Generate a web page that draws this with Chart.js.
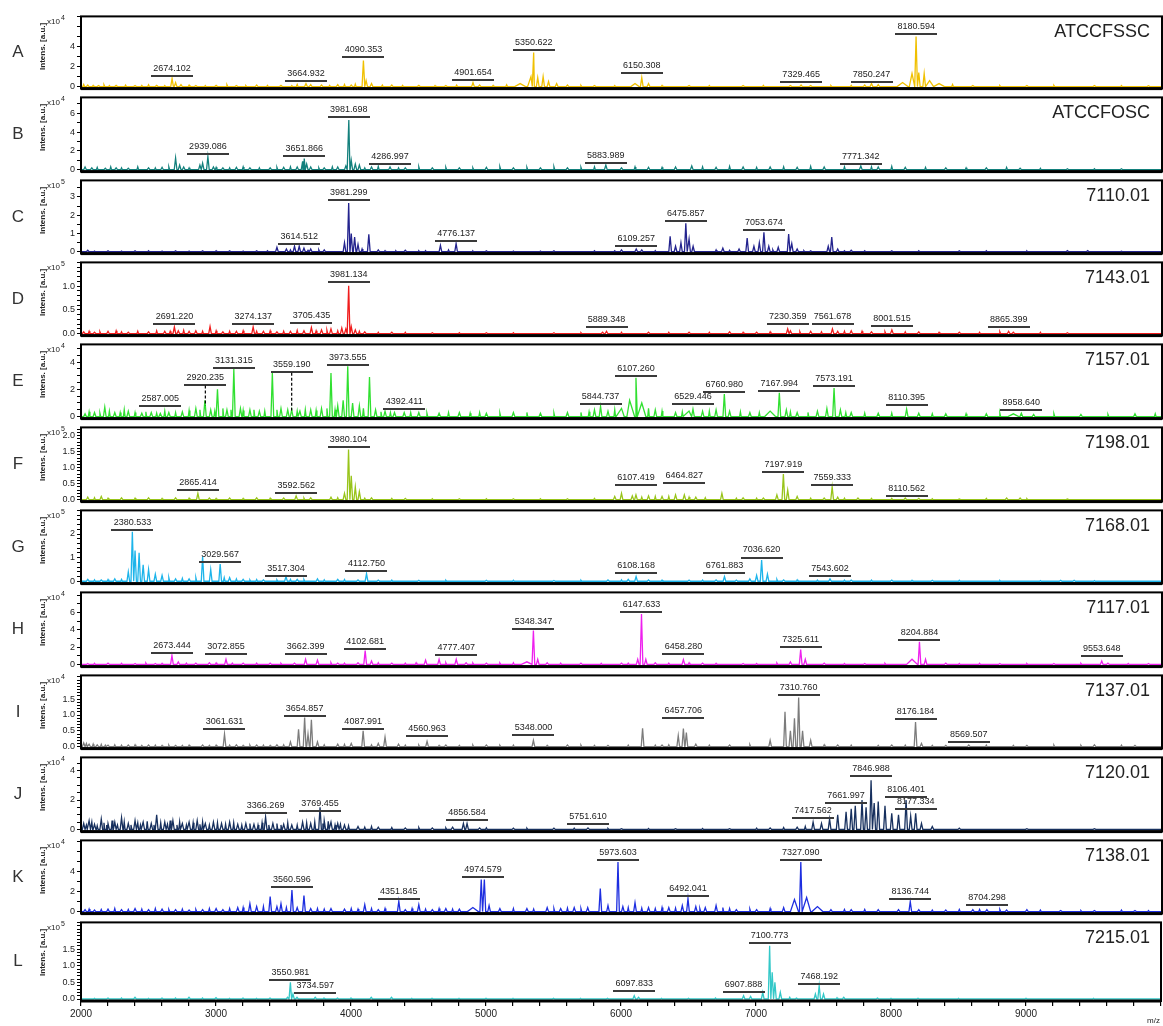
<!DOCTYPE html>
<html>
<head>
<meta charset="utf-8">
<script src="https://cdn.jsdelivr.net/npm/chart.js@4.4.0/dist/chart.umd.min.js"></script>
<style>
  body { margin: 0; background: #fff; }
  #wrap { position: relative; width: 1163px; height: 1026px; overflow: hidden; }
  #wrap canvas { position: absolute; left: 0; }
</style>
</head>
<body>
<div id="wrap"></div>
<script>
// ---- data (m/z, intensity in panel units, optional half width) ----
const letters = ["A","B","C","D","E","F","G","H","I","J","K","L"];
const sampleNames = ["ATCCFSSC","ATCCFOSC","7110.01","7143.01","7157.01","7198.01","7168.01","7117.01","7137.01","7120.01","7138.01","7215.01"];
const exponents = [4,4,5,5,4,5,5,4,4,4,4,5];
const yMins = [-0.2,-0.2,-0.1,-0.04,-0.15,-0.06,-0.1,-0.25,-0.06,-0.15,-0.2,-0.06];
const yMaxes = [7.0,7.7,3.9,1.5,5.3,2.26,3.0,8.3,2.25,4.9,7.1,2.3];
const yTickSteps = [1,1,0.5,0.1,0.5,0.1,0.2,1,0.1,0.5,1,0.1];
const yTickLabels = [[0,2,4],[0,2,4,6],[0,1,2,3],[0,0.5,1],[0,2,4],[0,0.5,1,1.5,2],[0,1,2],[0,2,4,6],[0,0.5,1,1.5],[0,2,4],[0,2,4],[0,0.5,1,1.5]];
const yDecimals = [0,0,0,1,0,1,0,0,1,0,0,1];
const xTickLabels = [2000,3000,4000,5000,6000,7000,8000,9000];

const peaksA = [[2050,0.15],[2130,0.1],[2260,0.12],[2400,0.1],[2560,0.12],[2674,0.8],[2700,0.4],[2740,0.2],[2850,0.1],[3000,0.12],[3150,0.1],[3300,0.15],[3480,0.12],[3665,0.3],[3700,0.2],[3780,0.15],[3900,0.2],[4000,0.15],[4090,2.6],[4110,0.6],[4150,0.3],[4300,0.15],[4500,0.12],[4700,0.1],[4901,0.4],[4950,0.15],[5250,0.3,40],[5330,1.0,25],[5350,3.4],[5380,0.9],[5420,1.0],[5460,0.5],[5520,0.3],[5600,0.15],[5800,0.1],[6100,0.3,30],[6150,0.9],[6200,0.3],[6500,0.1],[6900,0.1],[7250,0.1],[7329,0.15],[7400,0.1],[7800,0.15],[7850,0.3],[7900,0.2],[8080,0.4,40],[8150,1.3,20],[8180,5.0],[8200,1.4],[8240,1.3],[8280,0.6,30],[8350,0.3,40],[8600,0.1],[9000,0.1],[9500,0.1],[9900,0.08]];
const peaksB = [[2030,0.3],[2080,0.2],[2180,0.15],[2260,0.2],[2350,0.15],[2500,0.2],[2600,0.25],[2700,1.25],[2730,0.5],[2760,0.3],[2880,0.5],[2900,0.7],[2939,1.4],[2980,0.3],[3050,0.2],[3150,0.25],[3250,0.2],[3400,0.2],[3500,0.25],[3600,0.3],[3640,0.9],[3652,1.2],[3670,0.6],[3700,0.3],[3800,0.2],[3900,0.3],[3960,0.4],[3982,5.3],[4000,1.0],[4030,0.6],[4060,0.5],[4150,0.3],[4287,0.3],[4400,0.2],[4600,0.2],[4800,0.2],[5000,0.25],[5200,0.2],[5400,0.2],[5600,0.2],[5884,0.5],[6000,0.2],[6200,0.25],[6400,0.3],[6520,0.4],[6700,0.25],[6900,0.3],[7100,0.3],[7300,0.25],[7500,0.3],[7771,0.4],[7900,0.3],[8100,0.25],[8400,0.2],[8700,0.2],[8950,0.15],[9300,0.1],[9700,0.1]];
const peaksC = [[2050,0.08],[2200,0.05],[2400,0.05],[2700,0.05],[2900,0.05],[3100,0.05],[3300,0.05],[3450,0.25],[3520,0.15],[3580,0.3],[3615,0.3],[3650,0.2],[3700,0.15],[3800,0.1],[3950,0.5],[3981,2.67],[4000,1.0],[4025,0.8],[4050,0.4],[4130,0.95],[4200,0.1],[4400,0.08],[4660,0.35],[4776,0.45],[5000,0.05],[5500,0.05],[6000,0.1],[6109,0.15],[6150,0.1],[6360,0.85],[6400,0.3],[6440,0.5],[6476,1.55],[6500,0.7],[6530,0.3],[6750,0.2],[6870,0.15],[6930,0.75],[6980,0.3],[7020,0.5],[7054,1.07],[7090,0.3],[7160,0.25],[7237,0.97],[7260,0.45],[7300,0.15],[7400,0.05],[7530,0.3],[7556,0.8],[7600,0.15],[7700,0.08],[8000,0.05],[8500,0.05],[9300,0.06],[9450,0.06],[9700,0.03]];
const peaksD = [[2020,0.04],[2100,0.03],[2200,0.05],[2350,0.03],[2500,0.04],[2620,0.05],[2691,0.14],[2720,0.06],[2800,0.05],[2850,0.06],[2955,0.15],[3050,0.04],[3150,0.05],[3274,0.14],[3350,0.05],[3450,0.04],[3550,0.05],[3650,0.06],[3705,0.13],[3780,0.08],[3850,0.1],[3930,0.12],[3960,0.1],[3981,1.01],[4000,0.15],[4030,0.08],[4100,0.04],[4300,0.03],[4600,0.02],[5000,0.02],[5500,0.02],[5860,0.03],[5889,0.05],[6200,0.03],[6500,0.03],[6800,0.04],[7000,0.03],[7230,0.1],[7250,0.06],[7400,0.05],[7561,0.1],[7600,0.05],[7700,0.06],[7850,0.04],[8001,0.08],[8200,0.04],[8500,0.03],[8865,0.05],[8900,0.03],[9300,0.02]];
const peaksE = [[2030,0.2],[2100,0.3],[2176,0.7],[2250,0.3],[2350,0.4],[2450,0.25],[2520,0.3],[2587,0.23],[2650,0.3],[2750,0.35],[2850,0.6],[2917,1.2],[2960,0.5],[3010,2.0],[3080,0.5],[3131,3.5],[3180,0.6],[3250,0.5],[3320,0.4],[3416,3.2],[3480,0.6],[3530,0.5],[3559,0.5],[3620,0.4],[3700,0.5],[3780,0.6],[3850,3.2],[3900,0.8],[3940,1.2],[3974,3.7],[4010,1.0],[4060,0.8],[4135,2.9],[4180,0.5],[4250,0.4],[4320,0.3],[4392,0.3],[4500,0.3],[4650,0.25],[4800,0.3],[5000,0.25],[5200,0.3],[5400,0.25],[5600,0.3],[5800,0.5],[5845,0.75],[5900,0.4],[6000,0.6,40],[6060,1.2,40],[6107,2.85],[6150,1.0,30],[6250,0.5],[6400,0.3],[6500,0.4,40],[6529,0.55],[6600,0.4],[6700,0.5],[6761,1.65],[6800,0.4],[6950,0.3],[7100,0.4,40],[7168,1.75],[7220,0.5],[7300,0.3],[7450,0.4],[7520,0.6],[7573,2.1],[7620,0.5],[7700,0.3],[7900,0.25],[8110,0.55],[8200,0.25],[8400,0.2],[8700,0.2],[8900,0.2,40],[8959,0.25],[9050,0.15],[9400,0.15],[9800,0.2]];
const peaksF = [[2050,0.08],[2150,0.1],[2300,0.06],[2500,0.06],[2700,0.06],[2865,0.2],[2950,0.05],[3100,0.05],[3300,0.06],[3500,0.05],[3592,0.12],[3700,0.06],[3850,0.08],[3950,0.2],[3980,1.57],[4000,0.75],[4030,0.4],[4060,0.25],[4150,0.06],[4400,0.04],[4800,0.03],[5200,0.03],[5600,0.03],[5950,0.1],[6000,0.2],[6080,0.12],[6107,0.15],[6200,0.12],[6300,0.1],[6400,0.15],[6465,0.15],[6550,0.08],[6743,0.2],[6900,0.06],[7050,0.05],[7150,0.15],[7198,0.8],[7230,0.3],[7300,0.1],[7500,0.05],[7559,0.4],[7600,0.08],[7750,0.05],[8100,0.05],[8200,0.04],[8500,0.02],[8850,0.05],[8950,0.05],[9300,0.02]];
const peaksG = [[2050,0.08],[2150,0.06],[2250,0.1],[2350,0.4],[2380,2.1],[2400,1.3],[2430,1.2],[2460,0.7],[2500,0.5],[2550,0.3],[2600,0.25],[2700,0.1],[2800,0.1],[2900,1.05],[2960,0.5],[3030,0.73],[3100,0.15],[3200,0.08],[3350,0.06],[3517,0.2],[3600,0.08],[3750,0.1],[3900,0.08],[4050,0.06],[4113,0.32],[4200,0.05],[4500,0.04],[5000,0.04],[5500,0.03],[5900,0.06],[6050,0.08],[6108,0.2],[6200,0.06],[6500,0.05],[6700,0.06],[6762,0.2],[6850,0.05],[6950,0.1],[7000,0.25],[7037,0.9],[7080,0.3],[7200,0.06],[7543,0.1],[7700,0.05],[8000,0.05],[8300,0.04],[9250,0.04],[9350,0.04]];
const peaksH = [[2050,0.1],[2200,0.15],[2400,0.1],[2550,0.1],[2673,1.03],[2720,0.3],[2850,0.15],[2950,0.2],[3073,0.6],[3200,0.15],[3400,0.15],[3580,0.15],[3662,0.6],[3750,0.5],[3900,0.15],[4050,0.2],[4103,1.6],[4150,0.4],[4300,0.15],[4550,0.5],[4650,0.6],[4777,0.6],[4850,0.2],[5000,0.15],[5300,0.3,40],[5348,3.9],[5380,0.6],[5450,0.2],[5700,0.15],[6000,0.15],[6120,0.6],[6148,5.8],[6180,0.6],[6250,0.2],[6458,0.55],[6600,0.15],[6900,0.1],[7250,0.3],[7326,1.7],[7360,0.6],[7500,0.15],[7800,0.1],[8150,0.6,40],[8205,2.6],[8250,0.6],[8400,0.15],[8800,0.1],[9200,0.1],[9554,0.4],[9600,0.15],[9900,0.1]];
const peaksI = [[2020,0.12],[2060,0.08],[2120,0.06],[2200,0.05],[2350,0.05],[2500,0.05],[2700,0.04],[2900,0.05],[3062,0.4],[3150,0.06],[3300,0.05],[3450,0.06],[3550,0.15],[3610,0.55],[3655,0.92],[3680,0.4],[3705,0.85],[3750,0.15],[3900,0.08],[4000,0.1],[4088,0.5],[4200,0.1],[4250,0.3],[4350,0.08],[4561,0.17],[4700,0.05],[5000,0.05],[5348,0.2],[5600,0.05],[5900,0.04],[6156,0.58],[6300,0.05],[6420,0.35],[6458,0.57],[6480,0.45],[6550,0.08],[6800,0.05],[7100,0.2],[7210,1.1],[7250,0.5],[7280,0.9],[7311,1.55],[7340,0.5],[7400,0.2],[7600,0.05],[8000,0.05],[8176,0.78],[8220,0.1],[8400,0.04],[8570,0.05],[9000,0.04],[9500,0.06],[9800,0.04]];
const peaksJ = [[2020,0.4],[2060,0.6],[2100,0.35],[2150,0.7],[2200,0.4],[2250,0.5],[2300,0.8],[2350,0.4],[2400,0.6],[2460,0.5],[2520,0.4],[2560,1.0],[2620,0.5],[2680,0.6],[2750,0.4],[2800,0.5],[2860,0.6],[2920,0.4],[2980,0.5],[3040,0.4],[3100,0.5],[3160,0.35],[3220,0.4],[3280,0.35],[3366,0.84],[3420,0.4],[3500,0.35],[3560,0.3],[3640,0.5],[3700,0.4],[3769,1.5],[3800,0.6],[3850,0.5],[3900,0.4],[3950,0.3],[4050,0.2],[4200,0.15],[4400,0.1],[4600,0.1],[4750,0.15],[4830,0.4],[4857,0.4],[4950,0.1],[5200,0.08],[5500,0.08],[5752,0.1],[6000,0.05],[6400,0.05],[6800,0.05],[7100,0.1],[7300,0.15],[7418,0.5],[7480,0.4],[7540,0.7],[7600,1.0],[7662,1.2],[7700,1.4],[7730,1.6],[7780,2.0],[7810,1.5],[7847,3.35],[7870,1.8],[7900,1.9],[7950,1.6],[8000,1.1],[8050,1.0],[8106,2.0],[8140,0.9],[8177,1.1],[8220,0.4],[8300,0.2],[8500,0.08],[9000,0.05],[9500,0.05]];
const peaksK = [[2030,0.2],[2100,0.15],[2200,0.25],[2300,0.2],[2400,0.3],[2500,0.2],[2600,0.25],[2700,0.2],[2800,0.15],[2900,0.2],[3000,0.3],[3050,0.2],[3160,0.4],[3250,0.8],[3300,0.5],[3400,1.5],[3450,0.5],[3480,0.8],[3561,2.15],[3600,0.4],[3650,1.6],[3700,0.3],[3850,0.3],[3950,0.25],[4100,0.7],[4200,0.2],[4352,1.05],[4400,0.2],[4500,0.7],[4600,0.2],[4700,0.3],[4800,0.25],[4900,0.4,40],[4962,3.2],[4985,3.2],[5020,0.6],[5100,0.3],[5300,0.3],[5450,0.4],[5550,0.3],[5650,0.4],[5750,0.4],[5843,2.3],[5900,0.6],[5974,4.95],[6010,0.5],[6100,0.9],[6200,0.4],[6350,0.4],[6450,0.6],[6492,1.3],[6550,0.5],[6620,0.4],[6700,0.6],[6850,0.2],[7000,0.2],[7200,0.4],[7280,1.2,30],[7327,4.95],[7370,1.4,30],[7450,0.5,40],[7550,0.2],[7700,0.2],[7900,0.2],[8050,0.2],[8137,1.0],[8200,0.2],[8400,0.15],[8600,0.2],[8704,0.2],[8850,0.15],[9000,0.2],[9250,0.1],[9500,0.1],[9800,0.1]];
const peaksL = [[2200,0.03],[2400,0.05],[2600,0.03],[2800,0.05],[3000,0.04],[3200,0.03],[3400,0.03],[3530,0.05],[3551,0.5],[3570,0.15],[3600,0.05],[3735,0.05],[3900,0.03],[4150,0.05],[4300,0.05],[4600,0.02],[5000,0.02],[5500,0.02],[5900,0.02],[6098,0.1],[6130,0.05],[6500,0.02],[6908,0.1],[6960,0.08],[7050,0.2],[7101,1.6],[7120,0.8],[7140,0.5],[7180,0.2],[7300,0.03],[7440,0.15],[7468,0.4],[7500,0.15],[7650,0.05],[7900,0.03],[8200,0.02],[9000,0.02]];

// small baseline noise spikes (m/z, intensity)
const noiseA = [[2020,0.2],[2090,0.12],[2170,0.18],[2210,0.1],[2330,0.15],[2450,0.12],[2500,0.18],[2620,0.1],[2800,0.15],[2920,0.1],[3080,0.18],[3220,0.1],[3380,0.12],[3560,0.1],[3600,0.2],[3840,0.12],[3950,0.2],[4030,0.25],[4230,0.15],[4380,0.12],[4620,0.1],[4780,0.15],[5050,0.12],[5150,0.18],[5700,0.12],[5950,0.1],[6300,0.12],[6650,0.1],[7050,0.12],[7550,0.1],[7700,0.12],[8450,0.2],[8800,0.1],[9200,0.12],[9700,0.1]];
const noiseB = [[2120,0.25],[2220,0.3],[2300,0.2],[2420,0.3],[2550,0.2],[2650,0.3],[2800,0.2],[3000,0.25],[3100,0.2],[3200,0.3],[3320,0.2],[3450,0.25],[3550,0.3],[3760,0.2],[3860,0.3],[4100,0.2],[4200,0.35],[4350,0.2],[4500,0.3],[4700,0.25],[4900,0.2],[5100,0.3],[5300,0.25],[5500,0.3],[5700,0.25],[5800,0.3],[6100,0.3],[6300,0.25],[6600,0.3],[6800,0.35],[7000,0.25],[7200,0.3],[7400,0.35],[7650,0.3],[7850,0.3],[8000,0.35],[8250,0.25],[8550,0.2],[8850,0.25],[9100,0.15],[9500,0.1]];
const noiseC = [[2100,0.04],[2300,0.04],[2500,0.05],[2600,0.04],[2800,0.04],[3000,0.05],[3200,0.04],[3380,0.05],[3550,0.1],[3680,0.08],[3760,0.1],[4080,0.15],[4250,0.06],[4330,0.05],[4500,0.05],[4550,0.06],[4720,0.1],[4900,0.04],[5200,0.04],[5400,0.04],[5800,0.05],[5950,0.05],[6250,0.06],[6700,0.1],[6800,0.08],[7120,0.1],[7350,0.06],[7650,0.05],[7800,0.05],[8200,0.05],[8700,0.05],[9000,0.04]];
const noiseD = [[2060,0.05],[2140,0.04],[2260,0.06],[2300,0.04],[2420,0.05],[2560,0.06],[2660,0.05],[2760,0.07],[2900,0.05],[3000,0.06],[3100,0.05],[3200,0.06],[3300,0.05],[3400,0.06],[3500,0.05],[3600,0.07],[3740,0.06],[3820,0.07],[3900,0.06],[4060,0.05],[4200,0.03],[4400,0.03],[4800,0.02],[5200,0.02],[5700,0.02],[6000,0.03],[6350,0.03],[6650,0.03],[6900,0.03],[7100,0.04],[7320,0.04],[7480,0.04],[7650,0.05],[7780,0.05],[7950,0.04],[8100,0.04],[8350,0.03],[8650,0.03],[8800,0.04],[9100,0.03]];
const noiseE = [[2060,0.35],[2140,0.25],[2210,0.4],[2290,0.3],[2320,0.5],[2400,0.3],[2480,0.35],[2560,0.25],[2620,0.4],[2700,0.3],[2800,0.45],[2880,0.5],[2990,0.4],[3050,0.6],[3110,0.5],[3200,0.45],[3280,0.5],[3360,0.4],[3450,0.5],[3600,0.4],[3660,0.5],[3740,0.45],[3820,0.6],[3880,0.5],[4090,0.6],[4220,0.35],[4290,0.3],[4440,0.3],[4560,0.25],[4720,0.3],[4880,0.25],[4950,0.3],[5100,0.25],[5300,0.3],[5500,0.25],[5700,0.3],[5760,0.35],[5950,0.5],[6200,0.6],[6300,0.4],[6450,0.35],[6650,0.4],[6880,0.35],[7020,0.3],[7250,0.35],[7380,0.3],[7660,0.3],[7800,0.25],[8000,0.25],[8300,0.2],[8550,0.2],[8800,0.25],[9200,0.2],[9600,0.15],[9950,0.2]];
const noiseF = [[2100,0.06],[2200,0.05],[2400,0.05],[2600,0.04],[2800,0.05],[3000,0.04],[3200,0.04],[3400,0.05],[3650,0.05],[3900,0.06],[4100,0.05],[4300,0.04],[4600,0.03],[5000,0.03],[5400,0.03],[5800,0.04],[6150,0.08],[6250,0.1],[6350,0.1],[6500,0.08],[6620,0.06],[6850,0.05],[7000,0.05],[7400,0.05],[7650,0.05],[7850,0.04],[8000,0.04],[8300,0.03],[8700,0.04],[9000,0.03]];
const noiseG = [[2100,0.06],[2200,0.07],[2300,0.08],[2650,0.15],[2750,0.12],[2850,0.15],[3060,0.15],[3150,0.1],[3250,0.06],[3300,0.07],[3450,0.06],[3550,0.08],[3650,0.07],[3800,0.06],[3950,0.07],[4300,0.05],[4700,0.04],[5200,0.04],[5700,0.04],[6000,0.06],[6300,0.05],[6600,0.05],[7150,0.08],[7300,0.06],[7450,0.05],[7650,0.05],[7850,0.05],[8150,0.04],[8500,0.04],[8800,0.03],[9100,0.03],[9500,0.03]];
const noiseH = [[2100,0.12],[2300,0.12],[2480,0.15],[2600,0.12],[2780,0.15],[3000,0.18],[3120,0.15],[3300,0.15],[3480,0.12],[3850,0.2],[3950,0.15],[4200,0.2],[4400,0.15],[4480,0.2],[4700,0.2],[4900,0.15],[5100,0.15],[5200,0.2],[5550,0.15],[5850,0.12],[6050,0.15],[6350,0.15],[6500,0.2],[6700,0.12],[7000,0.1],[7150,0.15],[7650,0.1],[7950,0.12],[8500,0.1],[8650,0.12],[9000,0.1],[9400,0.12],[9750,0.1]];
const noiseI = [[2040,0.1],[2090,0.08],[2150,0.07],[2180,0.05],[2250,0.06],[2300,0.05],[2400,0.06],[2450,0.04],[2550,0.05],[2600,0.04],[2650,0.05],[2750,0.04],[2800,0.05],[2950,0.04],[3000,0.05],[3100,0.05],[3200,0.04],[3250,0.05],[3350,0.05],[3400,0.04],[3500,0.06],[3800,0.06],[3950,0.07],[4150,0.06],[4400,0.05],[4500,0.05],[4650,0.04],[4800,0.04],[4900,0.05],[5100,0.04],[5200,0.05],[5450,0.04],[5700,0.05],[5800,0.04],[6050,0.05],[6250,0.05],[6350,0.06],[6650,0.05],[6950,0.06],[7500,0.06],[7700,0.05],[7900,0.04],[8100,0.05],[8300,0.04],[8700,0.05],[8900,0.04],[9200,0.05],[9400,0.04],[9700,0.05]];
const noiseJ = [[2040,0.3],[2080,0.5],[2120,0.25],[2170,0.45],[2190,0.3],[2230,0.6],[2270,0.3],[2320,0.5],[2370,0.3],[2420,0.45],[2440,0.3],[2490,0.55],[2540,0.3],[2590,0.45],[2640,0.35],[2660,0.6],[2710,0.3],[2730,0.5],[2780,0.3],[2830,0.45],[2880,0.35],[2900,0.5],[2950,0.3],[3010,0.45],[3070,0.35],[3130,0.45],[3190,0.3],[3250,0.4],[3310,0.3],[3340,0.45],[3390,0.3],[3450,0.4],[3480,0.3],[3530,0.45],[3600,0.3],[3670,0.45],[3730,0.5],[3790,0.4],[3830,0.55],[3880,0.3],[3920,0.35],[3980,0.25],[4100,0.15],[4150,0.2],[4300,0.12],[4500,0.12],[4700,0.1],[5000,0.1],[5300,0.08],[5650,0.08],[5900,0.06],[6200,0.06],[6600,0.06],[7000,0.08],[7200,0.12],[7360,0.2]];
const noiseK = [[2060,0.25],[2150,0.2],[2250,0.3],[2350,0.2],[2450,0.25],[2550,0.3],[2650,0.2],[2750,0.25],[2850,0.2],[2950,0.3],[3100,0.3],[3200,0.4],[3350,0.5],[3520,0.4],[3750,0.3],[3800,0.25],[4000,0.3],[4050,0.25],[4150,0.3],[4250,0.3],[4450,0.3],[4550,0.25],[4650,0.3],[4750,0.25],[5200,0.3],[5350,0.25],[5500,0.3],[5600,0.35],[5700,0.3],[6050,0.4],[6150,0.35],[6250,0.3],[6300,0.4],[6400,0.35],[6580,0.3],[6750,0.4],[6800,0.3],[6950,0.25],[7100,0.3],[7650,0.2],[7800,0.2],[8300,0.15],[8500,0.2],[8650,0.2],[8800,0.2],[9100,0.15],[9400,0.1],[9700,0.15],[9900,0.1]];
const noiseL = [[2100,0.02],[2300,0.03],[2500,0.02],[2700,0.03],[2900,0.03],[3100,0.02],[3300,0.02],[3800,0.03],[4000,0.03],[4450,0.02],[4800,0.02],[5200,0.02],[5700,0.02],[6300,0.02],[6700,0.03],[7250,0.05],[7600,0.04],[8000,0.02],[8500,0.02],[9500,0.02]];

// peak labels: [text, bar height, optional dashed drop end]
const labelsA = [["2674.102",0.85],["3664.932",0.33],["4090.353",2.75],["4901.654",0.45],["5350.622",3.45],["6150.308",1.15],["7329.465",0.25],["7850.247",0.3],["8180.594",5.05]];
const labelsB = [["2939.086",1.44],["3651.866",1.27],["3981.698",5.35],["4286.997",0.38],["5883.989",0.5],["7771.342",0.4]];
const labelsC = [["3614.512",0.3],["3981.299",2.7],["4776.137",0.48],["6109.257",0.2],["6475.857",1.58],["7053.674",1.08]];
const labelsD = [["2691.220",0.16],["3274.137",0.16],["3705.435",0.18],["3981.134",1.04],["5889.348",0.09],["7230.359",0.16],["7561.678",0.16],["8001.515",0.13],["8865.399",0.09]];
const labelsE = [["2587.005",0.6],["2920.235",2.2,0.8],["3131.315",3.45],["3559.190",3.15,0.45],["3973.555",3.67],["4392.411",0.43],["5844.737",0.74],["6107.260",2.86],["6529.446",0.74],["6760.980",1.69],["7167.994",1.76],["7573.191",2.07],["8110.395",0.72],["8958.640",0.34]];
const labelsF = [["2865.414",0.24],["3592.562",0.16],["3980.104",1.57],["6107.419",0.4],["6464.827",0.47],["7197.919",0.8],["7559.333",0.4],["8110.562",0.05]];
const labelsG = [["2380.533",2.1],["3029.567",0.74],["3517.304",0.15],["4112.750",0.36],["6108.168",0.26],["6761.883",0.26],["7036.620",0.92],["7543.602",0.15]];
const labelsH = [["2673.444",1.07],["3072.855",0.97],["3662.399",0.97],["4102.681",1.6],["4777.407",0.8],["5348.347",3.9],["6147.633",5.8],["6458.280",0.97],["7325.611",1.73],["8204.884",2.63],["9553.648",0.69]];
const labelsI = [["3061.631",0.48],["3654.857",0.92],["4087.991",0.48],["4560.963",0.27],["5348.000",0.32],["6457.706",0.85],["7310.760",1.56],["8176.184",0.82],["8569.507",0.08]];
const labelsJ = [["3366.269",0.95],["3769.455",1.1],["4856.584",0.53],["5751.610",0.25],["7417.562",0.63],["7661.997",1.68],["7846.988",3.48],["8106.401",2.06],["8177.334",1.24]];
const labelsK = [["3560.596",2.24],["4351.845",1.1],["4974.579",3.26],["5973.603",4.93],["6492.041",1.34],["7327.090",4.95],["8136.744",1.04],["8704.298",0.45]];
const labelsL = [["3550.981",0.52],["3734.597",0.12],["6097.833",0.19],["6907.888",0.15],["7100.773",1.63],["7468.192",0.4]];

const allPeaks = [peaksA,peaksB,peaksC,peaksD,peaksE,peaksF,peaksG,peaksH,peaksI,peaksJ,peaksK,peaksL];
const allNoise = [noiseA,noiseB,noiseC,noiseD,noiseE,noiseF,noiseG,noiseH,noiseI,noiseJ,noiseK,noiseL];
const allLabels = [labelsA,labelsB,labelsC,labelsD,labelsE,labelsF,labelsG,labelsH,labelsI,labelsJ,labelsK,labelsL];

// ---- styling / layout ----
const lineColors = ["#f0c000","#13807c","#23238e","#f01c1c","#30e030","#98c41a","#1cb4ea","#ee20ee","#7c7c7c","#17305e","#1d2ee0","#33c8c8"];
const panelTops = [12,93,176,258,340,423,506,588,671,753,836,918];
const lastBottom = 1001;
const FONT = "'Liberation Sans', Arial, sans-serif";

// turn the peak list into a stick-like trace
function spectrum(peaks, noise) {
  const pts = [{x: 2000, y: 0}];
  peaks.forEach(([mz, h, w = 10]) => {
    pts.push({x: mz - w, y: 0}, {x: mz, y: h}, {x: mz + w, y: 0});
  });
  noise.forEach(([mz, h]) => {
    pts.push({x: mz - 6, y: 0}, {x: mz, y: h}, {x: mz + 6, y: 0});
  });
  pts.push({x: 10000, y: 0});
  return pts.sort((a, b) => a.x - b.x);
}

const decor = {
  id: "decor",
  afterDatasetsDraw(chart, args, o) {
    const {ctx, chartArea: a, scales: {x, y}} = chart;
    const i = o.idx;
    ctx.save();
    // peak labels
    ctx.font = "9px " + FONT;
    ctx.textAlign = "center";
    ctx.textBaseline = "bottom";
    allLabels[i].forEach(([txt, barY, dropTo]) => {
      const px = x.getPixelForValue(parseFloat(txt));
      const py = y.getPixelForValue(barY) - 2;
      ctx.fillStyle = "#3a3a3a";
      ctx.fillRect(Math.round(px - 21), Math.round(py - 1), 42, 2);
      ctx.fillStyle = "#222";
      ctx.fillText(txt, px, py - 3);
      if (dropTo !== undefined) {
        ctx.strokeStyle = "#000";
        ctx.lineWidth = 1.2;
        ctx.setLineDash([3, 2]);
        ctx.beginPath();
        ctx.moveTo(px, py + 1);
        ctx.lineTo(px, y.getPixelForValue(dropTo));
        ctx.stroke();
        ctx.setLineDash([]);
      }
    });
    // frame
    ctx.strokeStyle = "#000";
    ctx.lineWidth = 2;
    ctx.strokeRect(a.left, a.top, a.right - a.left, a.bottom - a.top);
    ctx.fillStyle = "#000";
    ctx.fillRect(a.left, a.bottom - 1.5, a.right - a.left, 3);
    // panel letter
    ctx.fillStyle = "#333";
    ctx.font = "17px " + FONT;
    ctx.textAlign = "center";
    ctx.textBaseline = "middle";
    ctx.fillText(letters[i], 18, (a.top + a.bottom) / 2);
    // sample name
    ctx.font = "18px " + FONT;
    ctx.textAlign = "right";
    ctx.fillStyle = "#222";
    ctx.fillText(sampleNames[i], 1150, a.top + 16);
    // y axis title
    ctx.save();
    ctx.translate(43, a.top + 30);
    ctx.rotate(-Math.PI / 2);
    ctx.font = "bold 8px " + FONT;
    ctx.fillStyle = "#222";
    ctx.textAlign = "center";
    ctx.fillText("Intens. [a.u.]", 0, 0);
    ctx.restore();
    // exponent
    ctx.font = "8px " + FONT;
    ctx.textAlign = "left";
    ctx.textBaseline = "top";
    ctx.fillStyle = "#222";
    ctx.fillText("x10", 47, a.top + 1);
    ctx.font = "7px " + FONT;
    ctx.fillText(String(exponents[i]), 61, a.top - 2);
    if (i === 11) {
      ctx.font = "8px " + FONT;
      ctx.textAlign = "right";
      ctx.fillText("m/z", 1160, a.bottom + 16);
    }
    ctx.restore();
  }
};

const wrap = document.getElementById("wrap");

letters.forEach((letter, i) => {
  const last = i === 11;
  const top = panelTops[i];
  const bottom = last ? lastBottom : panelTops[i + 1];
  const cTop = top - 3;
  const cH = last ? 1026 - cTop : bottom - top + 6;
  const canvas = document.createElement("canvas");
  canvas.width = 1163;
  canvas.height = cH;
  canvas.style.top = cTop + "px";
  canvas.style.width = "1163px";
  canvas.style.height = cH + "px";
  wrap.appendChild(canvas);

  const labs = yTickLabels[i];
  new Chart(canvas, {
    type: "line",
    data: {
      datasets: [{
        data: spectrum(allPeaks[i], allNoise[i]),
        borderColor: lineColors[i],
        borderWidth: 1.3,
        pointRadius: 0,
        tension: 0,
        fill: false
      }]
    },
    options: {
      responsive: false,
      animation: false,
      devicePixelRatio: 1,
      layout: {autoPadding: false, padding: {left: 0, right: 1, top: 3, bottom: last ? 0 : 3}},
      plugins: {legend: {display: false}, tooltip: {enabled: false}, decor: {idx: i}},
      scales: {
        x: {
          type: "linear",
          min: 2000,
          max: 10000,
          display: last,
          afterBuildTicks: s => {
            const t = [];
            for (let v = 2000; v <= 10000; v += 200) t.push({value: v});
            s.ticks = t;
          },
          afterFit: s => { s.height = last ? 25 : 0; },
          grid: {drawOnChartArea: false, tickLength: 5, color: "#000", lineWidth: 1.2},
          border: {display: false},
          ticks: {
            autoSkip: false,
            maxRotation: 0,
            padding: 2,
            color: "#222",
            font: {family: FONT, size: 10},
            callback: v => xTickLabels.includes(v) ? String(v) : ""
          }
        },
        y: {
          min: yMins[i],
          max: yMaxes[i],
          afterBuildTicks: s => {
            const t = [];
            for (let v = 0; v <= yMaxes[i] + 1e-9; v += yTickSteps[i]) t.push({value: +v.toFixed(3)});
            s.ticks = t;
          },
          afterFit: s => { s.width = 81; },
          grid: {drawOnChartArea: false, tickLength: 4, color: "#000", lineWidth: 1},
          border: {display: false},
          ticks: {
            autoSkip: false,
            padding: 2,
            color: "#222",
            font: {family: FONT, size: 9},
            callback: v => labs.some(l => Math.abs(l - v) < 1e-6) ? v.toFixed(yDecimals[i]) : ""
          }
        }
      }
    },
    plugins: [decor]
  });
});
</script>
</body>
</html>
